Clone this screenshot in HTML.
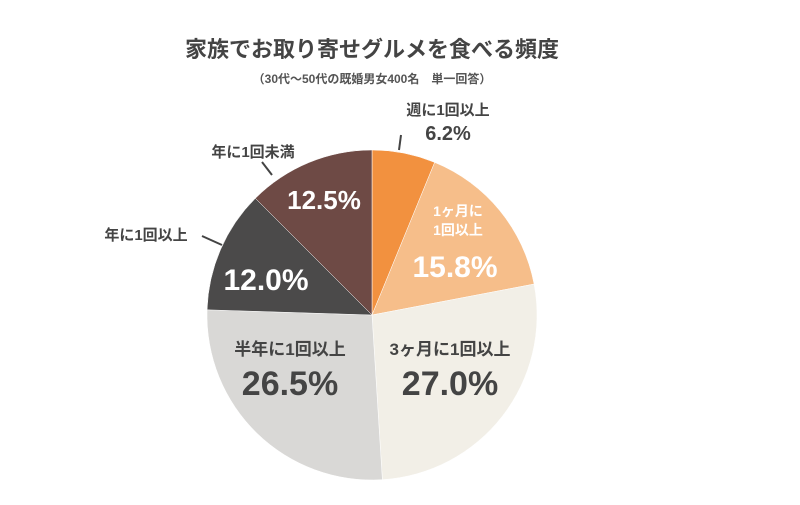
<!DOCTYPE html>
<html><head><meta charset="utf-8"><style>
body{margin:0;width:800px;height:500px;background:#fff;overflow:hidden}
svg text{font-family:"Liberation Sans","Noto Sans CJK JP",sans-serif;font-weight:bold}
</style></head><body>
<svg id="s" width="800" height="500" viewBox="0 0 800 500">
<text x="372" y="57" text-anchor="middle" font-size="22" fill="#444">家族でお取り寄せグルメを食べる頻度</text>
<text x="372" y="83" text-anchor="middle" font-size="12" fill="#555">（30代〜50代の既婚男女400名　単一回答）</text>
<g id="pie"></g>
<line x1="399" y1="150" x2="401" y2="135" stroke="#444" stroke-width="2"/>
<line x1="272" y1="175" x2="262" y2="162" stroke="#444" stroke-width="2"/>
<line x1="222" y1="245" x2="202" y2="236" stroke="#444" stroke-width="2"/>
<text x="448" y="115" text-anchor="middle" font-size="15" fill="#444">週に1回以上</text>
<text x="448" y="140" text-anchor="middle" font-size="20" fill="#444">6.2%</text>
<text x="253" y="157" text-anchor="middle" font-size="15" fill="#444">年に1回未満</text>
<text x="146" y="240" text-anchor="middle" font-size="15" fill="#444">年に1回以上</text>
<text x="324" y="209" text-anchor="middle" font-size="26" fill="#fff">12.5%</text>
<text x="458" y="216" text-anchor="middle" font-size="14" fill="#fff">1ヶ月に</text>
<text x="458" y="235" text-anchor="middle" font-size="14" fill="#fff">1回以上</text>
<text x="455" y="277" text-anchor="middle" font-size="30" fill="#fff">15.8%</text>
<text x="266" y="290" text-anchor="middle" font-size="30" fill="#fff">12.0%</text>
<text x="450" y="355" text-anchor="middle" font-size="17" fill="#444">3ヶ月に1回以上</text>
<text x="450" y="395" text-anchor="middle" font-size="34" fill="#444">27.0%</text>
<text x="290" y="355" text-anchor="middle" font-size="17" fill="#444">半年に1回以上</text>
<text x="290" y="395" text-anchor="middle" font-size="34" fill="#444">26.5%</text>
</svg>
<script>
var cx=372,cy=315,r=165,vals=[6.2,15.8,27.0,26.5,12.0,12.5],
cols=["#F2913F","#F6BE8A","#F2EFE7","#D9D8D6","#4B4A4A","#6E4A45"],a=0,h="";
function p(t){t=t/100*2*Math.PI;return [cx+r*Math.sin(t),cy-r*Math.cos(t)];}
vals.forEach(function(v,i){var s=p(a),e=p(a+v);h+='<path d="M'+cx+','+cy+'L'+s[0]+','+s[1]+'A'+r+','+r+' 0 '+(v>50?1:0)+' 1 '+e[0]+','+e[1]+'Z" fill="'+cols[i]+'" stroke="#fff" stroke-width="0.5"/>';a+=v;});
document.getElementById("pie").innerHTML=h;
</script>
</body></html>
